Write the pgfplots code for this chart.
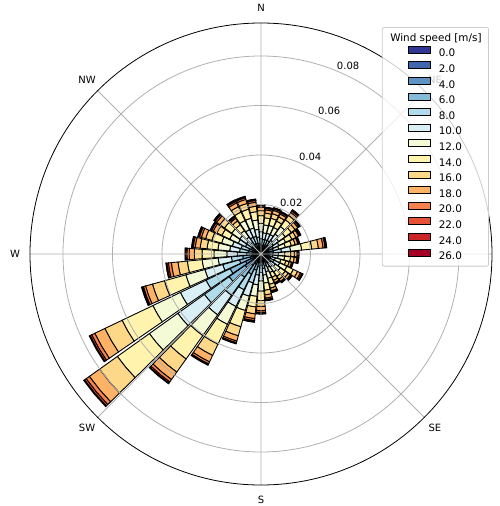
\documentclass[border=0pt]{standalone}
\usepackage{fontspec}
\setmainfont{DejaVu Sans}
\usepackage{pgfplots}
\usepackage{pgfplotstable}
\usepgfplotslibrary{polar}
\pgfplotsset{compat=1.18}
\definecolor{wc0}{RGB}{49,54,149}
\definecolor{wc1}{RGB}{64,102,173}
\definecolor{wc2}{RGB}{94,147,196}
\definecolor{wc3}{RGB}{133,187,216}
\definecolor{wc4}{RGB}{175,219,234}
\definecolor{wc5}{RGB}{216,239,246}
\definecolor{wc6}{RGB}{243,250,213}
\definecolor{wc7}{RGB}{255,243,173}
\definecolor{wc8}{RGB}{254,216,137}
\definecolor{wc9}{RGB}{253,178,101}
\definecolor{wc10}{RGB}{247,129,76}
\definecolor{wc11}{RGB}{231,81,54}
\definecolor{wc12}{RGB}{203,37,39}
\definecolor{wc13}{RGB}{165,0,38}
\definecolor{gridc}{RGB}{176,176,176}
\definecolor{legc}{RGB}{204,204,204}
% frequency of each speed bin (0-2, 2-4, ..., 26+ m/s) per 10-degree direction sector
\pgfplotstableread{
dir b0 b1 b2 b3 b4 b5 b6 b7 b8 b9 b10 b11 b12 b13
0 0.0002 0.0006 0.0012 0.0018 0.0024 0.0028 0.0034 0.0031 0.0020 0.0014 0.0006 0.0003 0.0001 0.0001
10 0.0002 0.0006 0.0011 0.0017 0.0023 0.0027 0.0032 0.0029 0.0019 0.0013 0.0006 0.0003 0.0001 0.0001
20 0.0002 0.0006 0.0012 0.0017 0.0023 0.0027 0.0033 0.0030 0.0019 0.0014 0.0006 0.0003 0.0001 0.0001
30 0.0002 0.0006 0.0011 0.0017 0.0024 0.0027 0.0032 0.0028 0.0019 0.0013 0.0006 0.0003 0.0001 0.0001
40 0.0002 0.0007 0.0013 0.0020 0.0026 0.0031 0.0037 0.0034 0.0022 0.0015 0.0007 0.0003 0.0002 0.0001
50 0.0002 0.0006 0.0012 0.0018 0.0023 0.0027 0.0032 0.0030 0.0019 0.0014 0.0006 0.0003 0.0001 0.0001
60 0.0002 0.0005 0.0011 0.0016 0.0021 0.0025 0.0030 0.0028 0.0018 0.0012 0.0005 0.0003 0.0001 0.0001
70 0.0002 0.0005 0.0010 0.0015 0.0019 0.0023 0.0028 0.0025 0.0016 0.0011 0.0005 0.0002 0.0001 0
80 0.0003 0.0008 0.0016 0.0024 0.0032 0.0037 0.0045 0.0041 0.0027 0.0019 0.0008 0.0004 0.0002 0.0001
90 0.0002 0.0005 0.0009 0.0014 0.0018 0.0022 0.0026 0.0024 0.0015 0.0011 0.0005 0.0002 0.0001 0
100 0.0002 0.0005 0.0009 0.0014 0.0018 0.0022 0.0026 0.0024 0.0015 0.0011 0.0005 0.0002 0.0001 0
110 0.0001 0.0004 0.0008 0.0012 0.0016 0.0019 0.0023 0.0021 0.0014 0.0010 0.0004 0.0002 0.0001 0
120 0.0002 0.0006 0.0011 0.0017 0.0022 0.0026 0.0032 0.0029 0.0019 0.0013 0.0006 0.0003 0.0001 0.0001
130 0.0002 0.0005 0.0009 0.0014 0.0018 0.0022 0.0026 0.0024 0.0015 0.0011 0.0005 0.0002 0.0001 0
140 0.0001 0.0004 0.0009 0.0013 0.0017 0.0020 0.0025 0.0022 0.0015 0.0010 0.0004 0.0002 0.0001 0
150 0.0001 0.0004 0.0008 0.0012 0.0016 0.0019 0.0023 0.0021 0.0014 0.0010 0.0004 0.0002 0.0001 0
160 0.0002 0.0005 0.0010 0.0015 0.0019 0.0023 0.0028 0.0025 0.0016 0.0011 0.0005 0.0002 0.0001 0
170 0.0002 0.0006 0.0011 0.0017 0.0023 0.0027 0.0032 0.0029 0.0019 0.0013 0.0006 0.0003 0.0001 0.0001
180 0.0002 0.0007 0.0015 0.0022 0.0029 0.0034 0.0041 0.0038 0.0024 0.0017 0.0007 0.0004 0.0002 0.0001
190 0.0003 0.0008 0.0017 0.0025 0.0033 0.0039 0.0047 0.0043 0.0028 0.0019 0.0008 0.0004 0.0002 0.0001
200 0.0004 0.0011 0.0019 0.0034 0.0053 0.0056 0.0060 0.0068 0.0038 0.0022 0.0007 0.0003 0.0002 0
210 0.0005 0.0015 0.0025 0.0045 0.0070 0.0075 0.0080 0.0089 0.0050 0.0029 0.0009 0.0004 0.0002 0
220 0.0006 0.0019 0.0032 0.0058 0.0090 0.0097 0.0103 0.0116 0.0065 0.0037 0.0012 0.0006 0.0003 0
230 0.0009 0.0026 0.0044 0.0079 0.0123 0.0132 0.0141 0.0159 0.0088 0.0051 0.0016 0.0008 0.0004 0
240 0.0008 0.0023 0.0038 0.0069 0.0108 0.0115 0.0123 0.0138 0.0077 0.0045 0.0014 0.0007 0.0004 0
250 0.0005 0.0015 0.0025 0.0045 0.0070 0.0075 0.0080 0.0090 0.0050 0.0029 0.0009 0.0005 0.0003 0
260 0.0004 0.0012 0.0023 0.0035 0.0046 0.0054 0.0065 0.0060 0.0038 0.0027 0.0012 0.0006 0.0003 0.0001
270 0.0003 0.0009 0.0018 0.0028 0.0037 0.0043 0.0052 0.0048 0.0031 0.0021 0.0009 0.0005 0.0002 0.0001
280 0.0003 0.0008 0.0017 0.0025 0.0034 0.0040 0.0048 0.0044 0.0028 0.0020 0.0008 0.0004 0.0002 0.0001
290 0.0003 0.0008 0.0016 0.0024 0.0032 0.0037 0.0045 0.0041 0.0026 0.0018 0.0008 0.0004 0.0002 0.0001
300 0.0002 0.0007 0.0014 0.0020 0.0027 0.0032 0.0038 0.0035 0.0023 0.0016 0.0007 0.0003 0.0002 0.0001
310 0.0002 0.0007 0.0014 0.0021 0.0028 0.0033 0.0040 0.0036 0.0023 0.0016 0.0007 0.0004 0.0002 0.0001
320 0.0002 0.0006 0.0011 0.0017 0.0022 0.0026 0.0032 0.0029 0.0019 0.0013 0.0006 0.0003 0.0001 0.0001
330 0.0002 0.0007 0.0015 0.0022 0.0029 0.0034 0.0041 0.0038 0.0024 0.0017 0.0007 0.0004 0.0002 0.0001
340 0.0002 0.0007 0.0014 0.0022 0.0029 0.0035 0.0041 0.0038 0.0024 0.0017 0.0007 0.0003 0.0002 0.0001
350 0.0002 0.0007 0.0013 0.0020 0.0027 0.0031 0.0038 0.0034 0.0022 0.0016 0.0007 0.0003 0.0002 0.0001
}\windtable

\begin{document}
\fontsize{10}{12}\selectfont
\begin{tikzpicture}
\begin{polaraxis}[
  scale only axis, width=462pt, height=462pt,
  at={(0,0)}, anchor=center,
  xmin=0, xmax=360, ymin=0, ymax=0.09333,
  xtick={0,45,...,315}, xticklabels={},
  ytick={0.02,0.04,0.06,0.08}, yticklabels={},
  scaled x ticks=false, scaled y ticks=false,
  xticklabel style={inner sep=0pt},
  yticklabel style={inner sep=0pt},
  major tick length=0pt,
  grid=major,
  major grid style={draw=gridc, line width=0.8pt},
  x axis line style={black, line width=0.8pt},
  y axis line style={draw=none},
  axis on top, clip=false,
  legend cell align=left,
  legend image code/.code={\path[draw=none,fill=none] (0pt,0pt) rectangle (41pt,7pt);
     \draw[#1, line width=0.9pt, fill opacity=1, draw opacity=1, rounded corners=0pt] (19pt,0pt) rectangle (41pt,7pt);},
  legend style={
    at={(0.9935,0.9913)}, anchor=north east,
    draw=legc, line width=0.8pt, fill=white, fill opacity=0.8, text opacity=1,
    rounded corners=2pt,
    inner xsep=7pt, inner ysep=6.5pt,
    row sep=4.5pt, column sep=8pt,
    nodes={inner sep=0pt, text height=7.3pt, text depth=0pt, font=\fontsize{10.4}{12}\selectfont},
  },
]
\addlegendimage{empty legend}
\addlegendentry{\hspace*{-48.5pt}Wind speed [m/s]}
\addlegendimage{fill=wc0, draw=black}\addlegendentry{0.0}
\addlegendimage{fill=wc1, draw=black}\addlegendentry{2.0}
\addlegendimage{fill=wc2, draw=black}\addlegendentry{4.0}
\addlegendimage{fill=wc3, draw=black}\addlegendentry{6.0}
\addlegendimage{fill=wc4, draw=black}\addlegendentry{8.0}
\addlegendimage{fill=wc5, draw=black}\addlegendentry{10.0}
\addlegendimage{fill=wc6, draw=black}\addlegendentry{12.0}
\addlegendimage{fill=wc7, draw=black}\addlegendentry{14.0}
\addlegendimage{fill=wc8, draw=black}\addlegendentry{16.0}
\addlegendimage{fill=wc9, draw=black}\addlegendentry{18.0}
\addlegendimage{fill=wc10, draw=black}\addlegendentry{20.0}
\addlegendimage{fill=wc11, draw=black}\addlegendentry{22.0}
\addlegendimage{fill=wc12, draw=black}\addlegendentry{24.0}
\addlegendimage{fill=wc13, draw=black}\addlegendentry{26.0}
\pgfplotsforeachungrouped \r in {0,...,35}{%
  \pgfplotstablegetelem{\r}{dir}\of\windtable
  \pgfmathsetmacro\am{450-\pgfplotsretval}%
  \pgfmathsetmacro\al{\am-4.5}%
  \pgfmathsetmacro\ar{\am+4.5}%
  \def\cum{0}%
  \pgfplotsforeachungrouped \k in {0,...,13}{%
    \edef\tmp{\noexpand\pgfplotstablegetelem{\r}{[index]\the\numexpr\k+1\relax}\noexpand\of\noexpand\windtable}\tmp
    \let\val\pgfplotsretval
    \pgfmathsetmacro\hi{\cum+\val}%
    \pgfmathtruncatemacro\pos{\val>0}%
    \ifnum\pos>0
      \edef\tmp{\noexpand\addplot[forget plot, draw=black, line width=0.9pt, fill=wc\k] coordinates {(\al,\cum) (\al,\hi) (\am,\hi) (\ar,\hi) (\ar,\cum) (\am,\cum)} -- cycle;}%
      \tmp
    \fi
    \let\cum\hi
  }%
}
\node[anchor=center] at (axis cs:90,0.0994) {N};
\node[anchor=center] at (axis cs:45,0.0994) {NE};
\node[anchor=center] at (axis cs:315,0.0994) {SE};
\node[anchor=center] at (axis cs:270,0.0994) {S};
\node[anchor=center] at (axis cs:225,0.0994) {SW};
\node[anchor=center] at (axis cs:180,0.0994) {W};
\node[anchor=center] at (axis cs:135,0.0994) {NW};
\node[anchor=south west, inner sep=0pt, yshift=1.5pt] at (axis cs:67.5,0.02) {0.02};
\node[anchor=south west, inner sep=0pt, yshift=1.5pt] at (axis cs:67.5,0.04) {0.04};
\node[anchor=south west, inner sep=0pt, yshift=1.5pt] at (axis cs:67.5,0.06) {0.06};
\node[anchor=south west, inner sep=0pt, yshift=1.5pt] at (axis cs:67.5,0.08) {0.08};
\coordinate (ctr) at (axis cs:0,0);
\end{polaraxis}
\pgfresetboundingbox
\path (ctr) ++(-261pt,254pt) rectangle ++(499pt,-506pt);
\end{tikzpicture}
\end{document}
